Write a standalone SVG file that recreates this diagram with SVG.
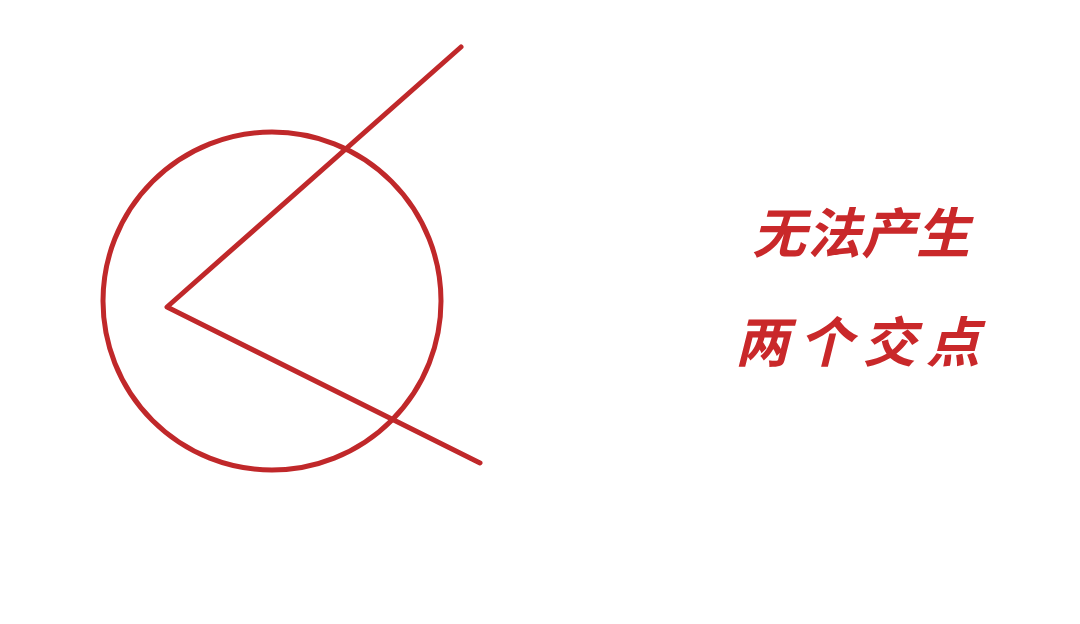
<svg xmlns="http://www.w3.org/2000/svg" width="1080" height="624" viewBox="0 0 1080 624">
<style>
.s{fill:none;stroke:#c0282a;stroke-width:5;stroke-linecap:round;stroke-linejoin:round}
.t{font-family:"Noto Sans CJK SC","Noto Sans",sans-serif;font-size:54px;font-weight:bold;fill:#c9282a;font-style:italic}
</style>
<rect width="1080" height="624" fill="#ffffff"/>
<g id="circle"><circle class="s" cx="272" cy="301" r="169"/></g>
<g id="connectors">
<polyline class="s" points="461,47 167,307 480,463"/>
</g>
<g id="label">
<text class="t" x="752" y="253" textLength="218" lengthAdjust="spacing">无法产生</text>
<text class="t" x="735" y="362" textLength="245" lengthAdjust="spacing">两个交点</text>
</g>
</svg>
